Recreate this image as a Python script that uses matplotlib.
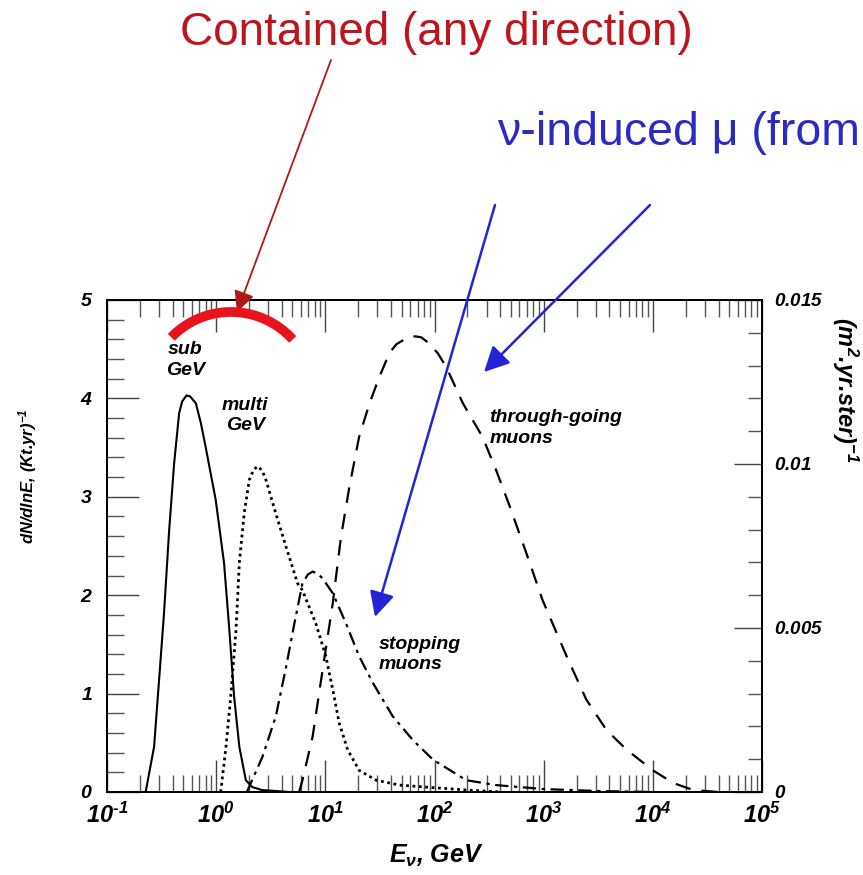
import numpy as np
import matplotlib
matplotlib.use("Agg")
import matplotlib.pyplot as plt
from matplotlib.lines import Line2D
from matplotlib.patches import FancyArrowPatch
from matplotlib.ticker import FixedLocator, LogLocator, NullFormatter, MultipleLocator

plt.rcParams.update({
    "font.family": ["Liberation Sans", "DejaVu Sans"],
    "mathtext.fontset": "custom",
    "mathtext.rm": "Liberation Sans:bold:italic",
    "mathtext.it": "Liberation Sans:bold:italic",
    "mathtext.bf": "Liberation Sans:bold:italic",
    "mathtext.sf": "Liberation Sans:bold:italic",
})

# ---- contained events, dN/dlnE per (kt yr)  (left axis) ----
sub_gev_E = [0.145, 0.178, 0.226, 0.27, 0.30, 0.333, 0.371, 0.412, 0.458, 0.488,
             0.535, 0.578, 0.652, 0.724, 0.80, 0.99, 1.18, 1.32, 1.46, 1.63, 1.87,
             2.14, 2.63, 3.55, 4.68]
sub_gev_N = [0.0, 0.0, 0.0, 0.46, 1.14, 1.82, 2.66, 3.34, 3.85, 3.97,
             4.03, 4.02, 3.95, 3.75, 3.51, 2.97, 2.33, 1.65, 0.97, 0.46, 0.12,
             0.05, 0.02, 0.01, 0.0]

multi_gev_E = [1.10, 1.23, 1.36, 1.52, 1.63, 1.81, 2.01, 2.19, 2.39, 2.63, 2.86, 3.52,
               4.37, 5.57, 6.17, 8.20, 10.1, 11.7, 13.4, 16.0, 20.4, 29.2, 47.9, 83.0,
               200.0, 400.0]
multi_gev_N = [0.0, 0.46, 0.97, 1.65, 2.33, 2.84, 3.17, 3.27, 3.31, 3.27, 3.17, 2.83,
               2.49, 2.12, 2.05, 1.71, 1.38, 1.04, 0.70, 0.43, 0.22, 0.12, 0.07, 0.05,
               0.02, 0.0]

# ---- upward muon fluxes per (m^2 yr sr)  (right axis) ----
stopping_E = [1.91, 2.66, 3.52, 4.37, 5.2, 6.17, 6.92, 7.64, 8.51, 9.44, 11.7, 15.5,
              20.4, 27.2, 41.4, 63.1, 96.6, 195.0, 367.0, 1000.0, 3162.0, 10000.0]
stopping_F = [0.0, 0.00108, 0.00231, 0.00381, 0.00513, 0.00636, 0.00663, 0.00672,
              0.00666, 0.00651, 0.00606, 0.00513, 0.00414, 0.00333, 0.00231, 0.00159,
              0.00099, 0.00036, 0.00021, 0.00009, 0.00003, 0.0]

through_E = [5.75, 6.17, 7.64, 9.44, 11.7, 13.9, 16.6, 20.4, 25.4, 31.3, 38.6, 44.7,
             55.0, 60.3, 67.6, 75.9, 89.1, 107.0, 128.0, 182.0, 275.0, 367.0, 490.0,
             708.0, 977.0, 1622.0, 2455.0, 3758.0, 5754.0, 10000.0, 15488.0, 23442.0,
             39811.0]
through_F = [0.0, 0.00036, 0.00168, 0.00372, 0.00576, 0.00777, 0.0093, 0.01083,
             0.01185, 0.01266, 0.01338, 0.01365, 0.01383, 0.01389, 0.01389, 0.01386,
             0.01368, 0.01338, 0.01296, 0.01185, 0.01083, 0.00981, 0.0087, 0.0072,
             0.00585, 0.00414, 0.00282, 0.00189, 0.00129, 0.00066, 0.00027, 0.00006,
             0.0]

x_ticks = [1e-1, 1e0, 1e1, 1e2, 1e3, 1e4, 1e5]
x_tick_labels = [r"$10^{‐1}$", r"$10^{0}$", r"$10^{1}$", r"$10^{2}$",
                 r"$10^{3}$", r"$10^{4}$", r"$10^{5}$"]
left_ticks = [0, 1, 2, 3, 4, 5]
right_ticks = [0, 0.005, 0.01, 0.015]
right_tick_labels = ["0", "0.005", "0.01", "0.015"]

W, H = 863, 875
fig = plt.figure(figsize=(W / 100, H / 100), dpi=100)
ax = fig.add_axes([107 / W, (H - 792) / H, 655 / W, 492 / H])
ax2 = ax.twinx()

ax.set_xscale("log")
ax.set_xlim(1e-1, 1e5)
ax.set_ylim(0, 5)
ax2.set_ylim(0, 0.015)

ax.plot(sub_gev_E, sub_gev_N, color="black", lw=1.5, ls="-")
ax.plot(multi_gev_E, multi_gev_N, color="black", lw=2.0, ls=(0, (1, 1.3)))
ax2.plot(stopping_E, stopping_F, color="black", lw=1.6, ls=(0, (6, 2.5, 1.5, 2.5)))
ax2.plot(through_E, through_F, color="black", lw=1.6, ls=(0, (7, 5)))

ax.xaxis.set_major_locator(FixedLocator(x_ticks))
ax.set_xticklabels(x_tick_labels, fontsize=17)
ax.xaxis.set_minor_locator(LogLocator(base=10, subs=np.arange(2, 10)))
ax.xaxis.set_minor_formatter(NullFormatter())
ax.set_yticks(left_ticks)
ax.set_yticklabels([r"$%d$" % v for v in left_ticks], fontsize=14)
ax.yaxis.set_minor_locator(MultipleLocator(0.2))
ax2.set_yticks(right_ticks)
ax2.set_yticklabels([r"$%s$" % s for s in right_tick_labels], fontsize=13.5)
ax2.yaxis.set_minor_locator(MultipleLocator(0.001))

ax.tick_params(axis="x", which="major", direction="in", length=23, width=1.0,
               color="#444444", top=True, bottom=True, pad=8)
ax.tick_params(axis="x", which="minor", direction="in", length=12, width=1.0,
               color="#555555", top=True, bottom=True)
ax.tick_params(axis="y", which="major", direction="in", length=23, width=1.0,
               color="#444444", left=True, right=False, pad=10)
ax.tick_params(axis="y", which="minor", direction="in", length=12, width=1.0,
               color="#555555", left=True, right=False)
ax2.tick_params(axis="y", which="major", direction="in", length=20, width=1.0,
                color="#444444", pad=9)
ax2.tick_params(axis="y", which="minor", direction="in", length=10, width=1.0,
                color="#555555")
for sp in list(ax.spines.values()) + list(ax2.spines.values()):
    sp.set_linewidth(1.4)


def fpx(x, y):
    """Image pixel (origin top-left) -> figure fraction."""
    return x / W, 1 - y / H


axis_lab = dict(fontweight="bold", style="italic")
fig.text(*fpx(436, 856), r"$E_{\nu}$, GeV", fontsize=18, ha="center", va="center",
         **axis_lab)
fig.text(*fpx(28, 476), r"dN/dlnE, (Kt.yr)$^{-1}$", fontsize=12, rotation=90,
         ha="center", va="center", **axis_lab)
fig.text(*fpx(845, 390), r"(m$^{2}$.yr.ster)$^{-1}$", fontsize=17, rotation=270,
         ha="center", va="center", **axis_lab)

lab = dict(fontsize=14, fontweight="bold", style="italic", linespacing=1.25)
ax.text(0.52, 4.39, "sub\nGeV", ha="center", va="center", **lab)
ax.text(1.85, 3.83, "multi\nGeV", ha="center", va="center", **lab)
ax.text(31, 1.40, "stopping\nmuons", ha="left", va="center", **lab)
ax.text(320, 3.70, "through-going\nmuons", ha="left", va="center", **lab)

# Red arc marking the contained-event region
cx, cy, r = 231.0, 395.0, 83.0
th = np.radians(np.linspace(42, 136, 80))
arc_pts = [fpx(cx + r * np.cos(t), cy - r * np.sin(t)) for t in th]
fig.add_artist(Line2D([p[0] for p in arc_pts], [p[1] for p in arc_pts],
                      transform=fig.transFigure, color="#e8131b", lw=7,
                      solid_capstyle="butt"))

fig.text(*fpx(436, 33), "Contained (any direction)", color="#c0141c",
         fontsize=33, ha="center", va="center", family="Liberation Sans")
fig.text(*fpx(497, 133), "ν-induced μ (from", color="#2b2bc4",
         fontsize=33.5, ha="left", va="center", family="Liberation Sans")


def arrow(p0, p1, color, lw, scale):
    fig.add_artist(FancyArrowPatch(
        fpx(*p0), fpx(*p1), transform=fig.transFigure,
        arrowstyle="-|>,head_length=0.9,head_width=0.45", mutation_scale=scale,
        color=color, lw=lw, shrinkA=0, shrinkB=0))


arrow((331, 60), (237, 312), "#b01818", 1.3, 14)
arrow((495, 205), (375, 617), "#2323d8", 1.8, 17)
arrow((650, 205), (484, 372), "#2323d8", 1.8, 17)

fig.savefig("out.png", dpi=100)
